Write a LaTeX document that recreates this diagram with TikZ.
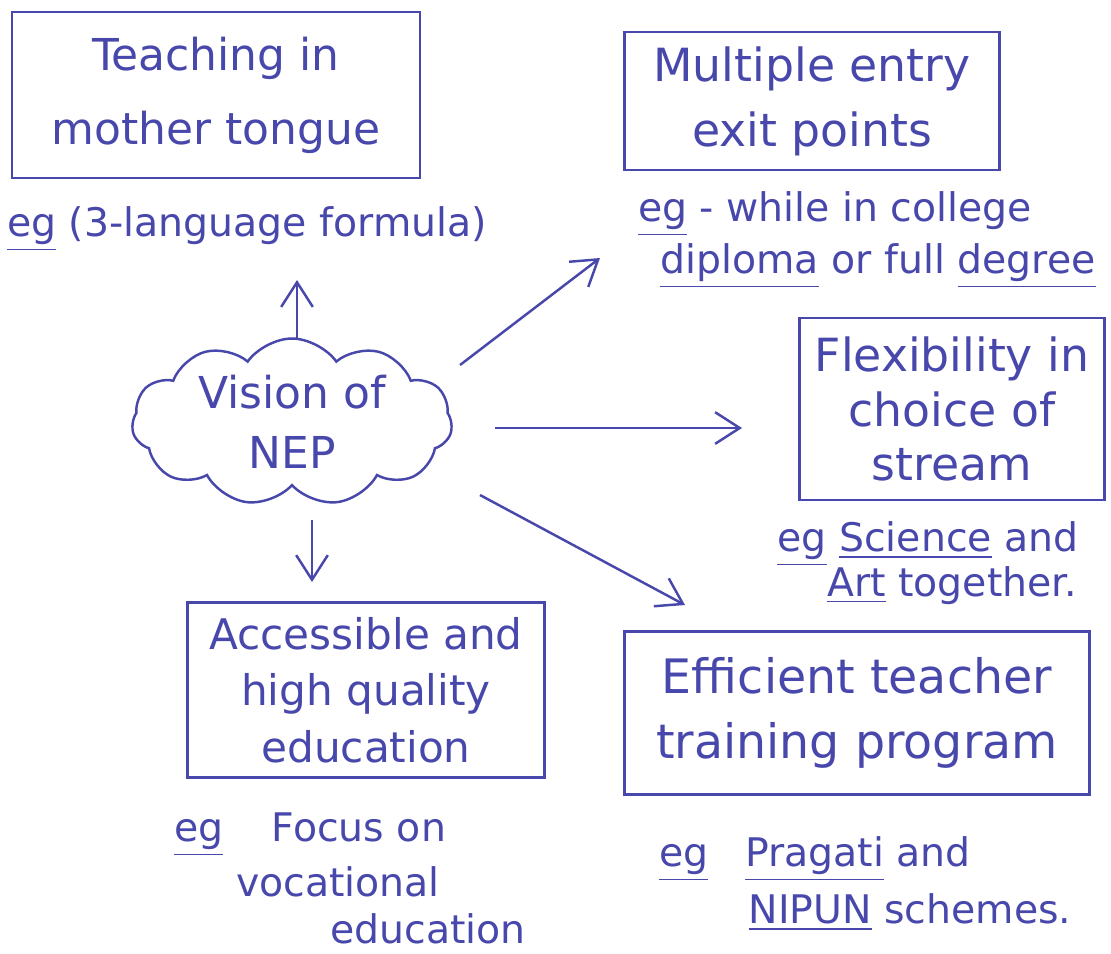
\documentclass[tikz,border=0pt]{standalone}
\usepackage{fontspec}
\setmainfont{DejaVu Sans}
\usetikzlibrary{shapes.symbols,arrows.meta}
\definecolor{ink}{RGB}{72,72,172}
\tikzset{
  ink line/.style={draw=ink, line width=0.7pt},
  idea/.style={ink line, rectangle, text=ink, align=center, inner sep=0pt},
  example/.style={text=ink, inner sep=0pt, font=\fontsize{11.2}{14}\selectfont, text height=1.6ex, text depth=0.4ex},
  link/.style={ink line, -{Straight Barb[length=7pt,width=9pt]}}
}
\begin{document}
\begin{tikzpicture}[x=0.01cm,y=-0.01cm]
\path[use as bounding box, fill=white] (0,0) rectangle (1111,953);

% idea boxes
\node[idea, minimum width=4.08cm, minimum height=1.66cm, font=\fontsize{12.5}{21}\selectfont] (b1) at (216,95) {Teaching in\\mother tongue};
\node[idea, minimum width=3.75cm, minimum height=1.38cm, font=\fontsize{13}{18.5}\selectfont] (b2) at (812,101) {Multiple entry\\exit points};
\node[idea, minimum width=3.05cm, minimum height=1.82cm, font=\fontsize{13}{15.6}\selectfont] (b3) at (952,409) {Flexibility in\\choice of\\stream};
\node[idea, minimum width=4.65cm, minimum height=1.63cm, font=\fontsize{13.5}{18.5}\selectfont] (b4) at (857,713) {Efficient teacher\\training program};
\node[idea, minimum width=3.57cm, minimum height=1.75cm, font=\fontsize{12}{16}\selectfont] (b5) at (366,690) {Accessible and\\high quality\\education};

% central cloud
\node[cloud, ink line, text=ink, cloud puffs=11, cloud puff arc=110, aspect=2.1,
      minimum width=3.2cm, minimum height=1.5cm, align=center, inner sep=0pt,
      font=\fontsize{12.5}{17}\selectfont] (cloud) at (292,422) {Vision of\\NEP};

% examples
\node[example] (e1) at (247,225) {\underline{eg} (3-language formula)};
\node[example] (e2a) at (835,210) {\underline{eg} - while in college};
\node[example] (e2b) at (878,262) {\underline{diploma} or full \underline{degree}};
\node[example] (e3a) at (928,540) {\underline{eg} \underline{Science} and};
\node[example] (e3b) at (952,585) {\underline{Art} together.};
\node[example] (e4a) at (815,855) {\underline{eg} \hspace{0.3em} \underline{Pragati} and};
\node[example] (e4b) at (910,912) {\underline{NIPUN} schemes.};
\node[example] (e5a) at (310,830) {\underline{eg} \hspace{0.6em} Focus on};
\node[example] (e5b) at (338,885) {vocational};
\node[example] (e5c) at (428,932) {education};

% arrow end points
\coordinate (s1) at (297,339);
\coordinate (t1) at (297,280);
\coordinate (s2) at (460,365);
\coordinate (t2) at (600,258);
\coordinate (s3) at (495,428);
\coordinate (t3) at (742,428);
\coordinate (s4) at (480,495);
\coordinate (t4) at (685,605);
\coordinate (s5) at (312,520);
\coordinate (t5) at (312,582);

\draw[link] (s1) -- (t1);
\draw[link] (s2) -- (t2);
\draw[link] (s3) -- (t3);
\draw[link] (s4) -- (t4);
\draw[link] (s5) -- (t5);
\end{tikzpicture}
\end{document}
